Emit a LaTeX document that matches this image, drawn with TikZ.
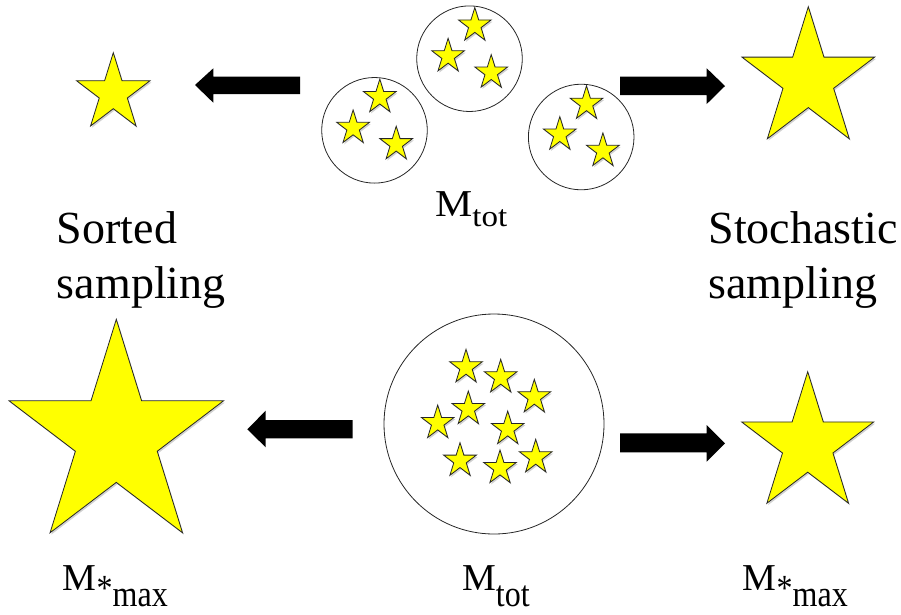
\documentclass[tikz,border=0pt]{standalone}
\usepackage{fontspec}
\setmainfont{Liberation Serif}
\usepackage{graphicx}
\newcommand\starpath[1]{(270:#1) -- (306:{0.382*#1}) -- (342:#1) -- (18:{0.382*#1}) -- (54:#1) -- (90:{0.382*#1}) -- (126:#1) -- (162:{0.382*#1}) -- (198:#1) -- (234:{0.382*#1}) -- cycle}
\newcommand\MlabT[1]{\scalebox{1.1}[1]{\fontsize{38}{38}\selectfont M\raisebox{-10pt}{\fontsize{30}{30}\selectfont #1}}}
\newcommand\MlabB[1]{{\fontsize{38}{38}\selectfont M}\raisebox{-16pt}{\scalebox{1}[1.15]{\fontsize{32}{32}\selectfont #1}}}
\definecolor{staryellow}{RGB}{255,255,0}
\tikzset{
  starline/.style={draw=black!85, line width=0.8pt, fill=staryellow, line join=miter},
  ystar/.pic={
    \begin{scope}[xscale=0.955]
      \fill[black, opacity=0.18, shift={(1.3,1.8)}] \starpath{#1};
      \draw[starline] \starpath{#1};
    \end{scope}
  },
  bag/.style={circle, draw=black!85, line width=0.8pt, inner sep=0pt},
  blockarrow/.style={fill=black},
  bigtext/.style={inner sep=0pt, anchor=base west, font=\fontsize{46}{55}\selectfont},
  mlabel/.style={inner sep=0pt, anchor=base west}
}
\begin{document}
\begin{tikzpicture}[x=1pt,y=-1pt]
\path[use as bounding box] (0,0) rectangle (901,614);

% ---------- top row ----------
\pic (tl) at (113.3,93.2) {ystar=40.5};
\pic (tr) at (808.3,79.7) {ystar=73};

\fill[blockarrow] (195,85) -- (213.3,68.3) -- (213.3,76.5) -- (300,76.5) -- (300,94) -- (213.3,94) -- (213.3,102.7) -- cycle;
\fill[blockarrow] (620,76.7) -- (706.7,76.7) -- (706.7,68.3) -- (725,86) -- (706.7,104) -- (706.7,95) -- (620,95) -- cycle;

\foreach \cx/\cy/\nm in {374.5/130.3/ca, 469.5/58.7/cb, 581.2/137/cc} {
  \node[bag, minimum size=105.6pt] (\nm) at (\cx,\cy) {};
  \pic at ({\cx+5.3},{\cy-33.2}) {ystar=18};
  \pic at ({\cx-21.4},{\cy-2.4}) {ystar=18};
  \pic at ({\cx+21.7},{\cy+13.9}) {ystar=18};
}

\node[mlabel] (mtot1) at (435,216.7) {\MlabT{tot}};

\node[bigtext, align=left] (sorted) at (56.7,298.3) {Sorted\\sampling};
\node[bigtext, align=left] (stoch) at (708.3,298.3) {Stochastic\\sampling};

% ---------- bottom row ----------
\pic (bl) at (116.3,437.3) {ystar=118};
\pic (br) at (807.7,444.4) {ystar=72.7};

\fill[blockarrow] (247.3,429.3) -- (265.7,410.7) -- (265.7,420) -- (352.7,420) -- (352.7,438.3) -- (265.7,438.3) -- (265.7,447.3) -- cycle;
\fill[blockarrow] (620,433.3) -- (706.7,433.3) -- (706.7,425) -- (725,443.3) -- (706.7,461.7) -- (706.7,452.3) -- (620,452.3) -- cycle;

\node[bag, minimum size=220pt] (cbig) at (494,424) {};
\foreach \x/\y in {466/367.3, 500.7/377.3, 534.3/397.3, 468.3/409, 437.7/423, 507.7/429, 460/460.7, 500/468, 535.7/457.3} {
  \pic at (\x,\y) {ystar=18};
}

\node[mlabel] (mmaxl) at (62.7,590) {\MlabB{\raisebox{5pt}{*}max}};
\node[mlabel] (mtot2) at (462,590) {\MlabB{tot}};
\node[mlabel] (mmaxr) at (742.7,590) {\MlabB{\raisebox{5pt}{*}max}};
\end{tikzpicture}
\end{document}
